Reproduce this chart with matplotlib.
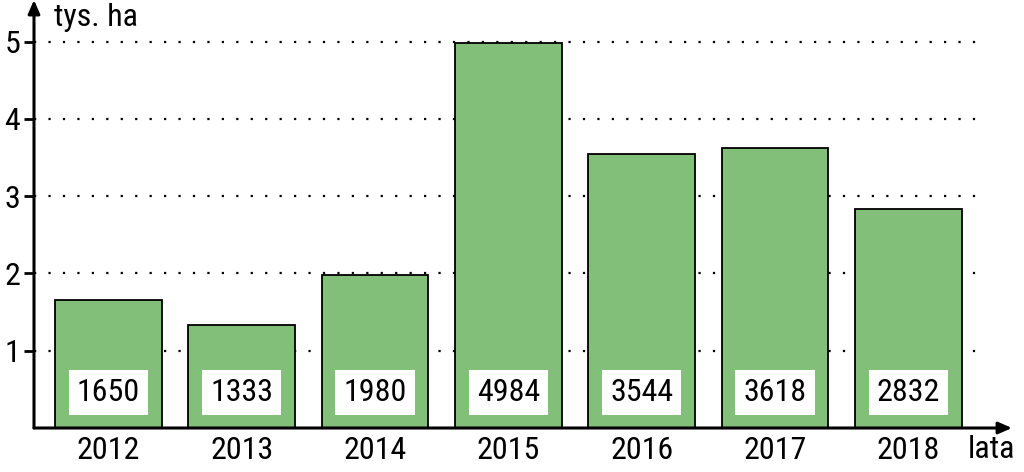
import matplotlib
matplotlib.use("Agg")
import matplotlib.pyplot as plt
from matplotlib import font_manager

years = ["2012", "2013", "2014", "2015", "2016", "2017", "2018"]
values = [1650, 1333, 1980, 4984, 3544, 3618, 2832]
yticks = [1, 2, 3, 4, 5]

names = {f.name for f in font_manager.fontManager.ttflist}
fam = "Liberation Sans"
for cand in ["Nimbus Sans Narrow", "Liberation Sans Narrow", "Arial Narrow",
             "Roboto Condensed", "Archivo Narrow", "Barlow Semi Condensed"]:
    if cand in names:
        fam = cand
        break
plt.rcParams['font.family'] = [fam, 'DejaVu Sans']

W, H = 1024, 472
fig = plt.figure(figsize=(W/100, H/100), dpi=100)
left, bottom, right, top = 34, 428, 1012, 0
ax = fig.add_axes([left/W, (H-bottom)/H, (right-left)/W, (bottom-top)/H])

x0, step = 108.5, 133.3
xmin = (left - x0)/step
xmax = (right - x0)/step
ax.set_xlim(xmin, xmax)
ppu = 77.3
ax.set_ylim(0, bottom/ppu)

green = "#82c07a"
xs = list(range(len(years)))
heights = [v/1000 for v in values]
ax.bar(xs, heights, width=0.8, color=green, edgecolor="black", linewidth=1.3, zorder=3)

gx_end = (985 - x0)/step
for t in yticks:
    ax.plot([xmin, gx_end], [t, t], color="black", linewidth=1.6,
            linestyle=(0, (1, 5.5)), zorder=1)

for x, v in zip(xs, values):
    ax.text(x, 0.46, str(v), ha="center", va="center", fontsize=23, zorder=5,
            bbox=dict(boxstyle="square,pad=0.25", facecolor="white", edgecolor="none"))

for s in ax.spines.values():
    s.set_visible(False)
ax.set_xticks(xs)
ax.set_xticklabels(years, fontsize=23)
ax.tick_params(axis="x", length=0, pad=6)
ax.set_yticks(yticks)
ax.set_yticklabels([str(t) for t in yticks], fontsize=23)
ax.tick_params(axis="y", length=7, width=2, pad=3)

# axes with arrows
ax.annotate("", xy=(1.0, 0), xytext=(0, 0), xycoords="axes fraction",
            arrowprops=dict(arrowstyle="-|>,head_length=0.8,head_width=0.35",
                            color="black", lw=2.2, shrinkA=0, shrinkB=0), zorder=6)
ax.annotate("", xy=(0, 1.0), xytext=(0, 0), xycoords="axes fraction",
            arrowprops=dict(arrowstyle="-|>,head_length=0.8,head_width=0.35",
                            color="black", lw=2.2, shrinkA=0, shrinkB=0), zorder=6)

fig.text(54/W, 1 - 18/H, "tys. ha", ha="left", va="center", fontsize=23)
fig.text(968/W, 1 - 449/H, "lata", ha="left", va="center", fontsize=23)

fig.savefig("out.png", dpi=100)
